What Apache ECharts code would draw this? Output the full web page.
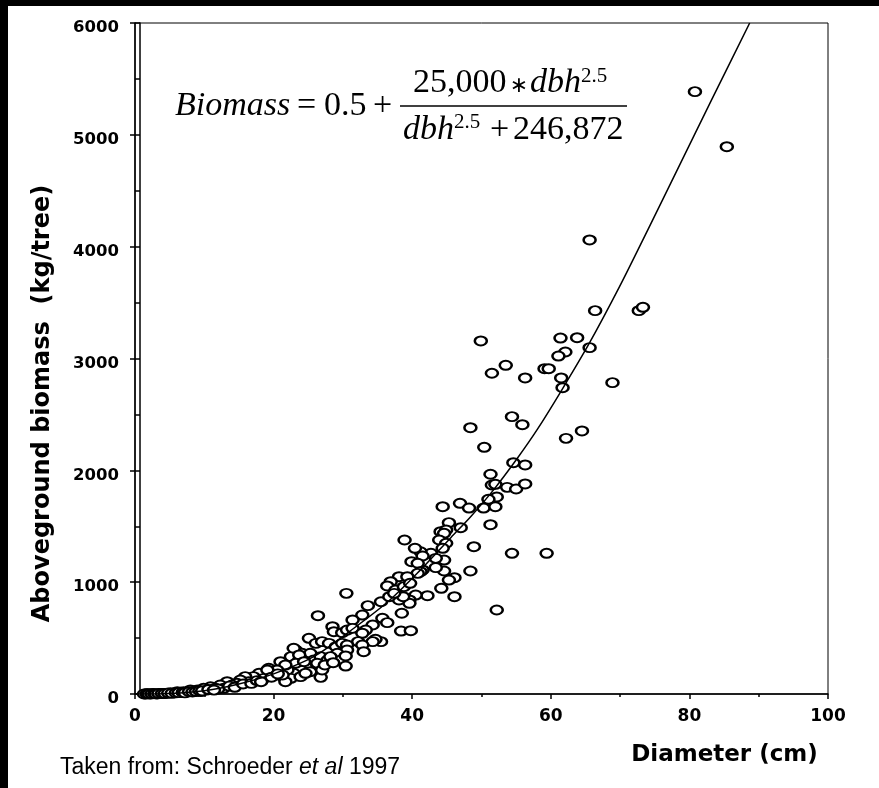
<!DOCTYPE html>
<html><head><meta charset="utf-8">
<script src="https://cdn.jsdelivr.net/npm/echarts@6/dist/echarts.min.js"></script>
<style>html,body{margin:0;padding:0;background:#fff}#c{width:879px;height:788px}</style>
</head><body><div id="c"></div>
<script>
// ---- data ----
const xTicks = [0, 20, 40, 60, 80, 100];
const yTicks = [0, 1000, 2000, 3000, 4000, 5000, 6000];

const dbh = [
 80.8,85.4,65.6,66.4,72.7,73.3,61.4,63.8,65.6,62.1,61.1,61.5,68.9,61.7,64.5,62.2,
 49.9,53.5,51.5,59.1,59.7,56.3,54.4,55.9,48.4,50.4,54.6,56.3,51.3,51.5,52.0,53.7,
 55.0,56.3,52.2,51.0,44.4,46.9,48.2,50.3,52.0,45.3,47.0,51.3,44.1,44.9,44.6,43.9,
 44.9,48.9,54.4,59.4,42.7,41.2,44.6,43.4,41.5,44.6,43.4,48.4,46.1,45.3,44.2,42.2,
 46.1,52.2,38.9,40.4,44.4,41.5,39.9,40.8,41.2,40.8,38.1,36.9,36.4,37.6,39.3,38.8,
 39.7,40.5,39.6,39.6,38.1,38.7,35.5,36.7,37.4,30.5,33.6,26.4,38.5,32.8,31.4,35.7,
 36.4,34.3,28.5,28.7,29.9,30.6,31.4,33.3,32.8,38.4,39.8,35.5,34.7,34.3,32.2,32.8,
 33.0,25.1,26.1,27.0,28.0,29.0,29.9,30.6,30.6,29.2,29.7,30.4,23.2,24.1,22.5,23.7,
 25.3,25.8,26.8,27.8,28.2,30.4,26.8,24.9,26.3,23.9,25.3,22.9,21.5,22.0,21.3,22.5,
 21.7,23.9,24.6,22.9,23.7,23.2,24.4,26.3,27.0,21.0,21.7,19.3,20.5,20.0,21.3,17.9,
 18.6,17.1,19.1,15.9,16.4,15.2,14.7,13.3,14.0,12.3,12.8,10.9,11.6,9.9,9.0,9.5,
 8.0,7.0,6.1,5.1,4.1,3.2,2.2,1.5,1.8,2.6,3.6,4.6,5.6,6.6,7.5,8.5,
 10.3,11.2,12.0,13.6,14.4,15.6,16.8,17.6,18.2,19.7,20.6,27.4,28.6,
 1.3,1.7,2.0,2.4,2.8,3.0,3.4,3.9,4.3,4.8,5.3,5.9,6.3,6.9,7.2,7.8,
 8.3,8.8,9.3,9.7,10.6,11.4
];
const biomass = [
 5386,4894,4060,3428,3428,3458,3183,3186,3097,3058,3022,2826,2784,2739,2352,2286,
 3157,2939,2868,2909,2909,2826,2480,2408,2381,2206,2068,2048,1965,1869,1875,1848,
 1833,1878,1762,1741,1675,1705,1663,1663,1675,1532,1487,1514,1451,1467,1437,1377,
 1348,1317,1258,1258,1258,1272,1198,1213,1109,1100,1130,1100,1040,1019,945,879,
 870,751,1377,1303,1303,1234,1183,1169,1094,1079,1049,1004,966,930,1049,960,
 990,885,841,811,841,870,825,870,900,900,790,700,722,706,662,677,
 638,617,602,557,548,572,587,572,543,563,566,468,489,468,468,438,
 378,498,453,468,453,423,453,438,393,364,304,340,393,364,334,304,
 364,304,334,304,334,250,149,244,259,215,199,185,244,215,155,140,
 110,155,185,409,349,275,289,275,215,289,259,230,215,170,170,185,
 140,155,215,155,110,125,96,110,80,80,51,65,51,51,36,21,
 36,21,21,12,6,0,0,0,3,4,5,8,10,15,18,25,
 35,40,45,70,60,90,95,120,110,150,180,260,280,
 0,2,1,2,3,1,4,5,4,8,6,10,12,14,10,20,
 18,22,30,28,40,35
];

// fitted curve, points
const curveDbh     = [0, 5, 10, 15, 20, 25.8, 30.6, 36.4, 41.2, 45.6, 48.5, 51.8, 55.2, 58.1, 61.6, 65.5, 69.9, 74, 78, 83.2, 88.7];
const curveBiomass = [0, 5, 30, 90, 180, 334, 543, 820, 1110, 1400, 1590, 1830, 2110, 2370, 2720, 3130, 3640, 4150, 4656, 5312, 6000];

const yName = 'Aboveground biomass  (kg/tree)';
const xName = 'Diameter (cm)';
const source = 'Taken from: Schroeder ';

// ---- chart ----
const chart = echarts.init(document.getElementById('c'), null, {renderer: 'canvas'});
const serif = 'Liberation Serif';
const sans = 'DejaVu Sans';
const eqFont = 34, supFont = 21;
const plain = v => String(v);

const option = {
  backgroundColor: '#fff',
  animation: false,
  grid: {left: 135, right: 51, top: 23, bottom: 94, show: true, borderColor: '#000', borderWidth: 1, backgroundColor: 'transparent'},
  xAxis: {
    type: 'value', min: xTicks[0], max: xTicks[xTicks.length - 1], interval: xTicks[1] - xTicks[0],
    name: xName, nameLocation: 'middle', nameGap: 50,
    nameTextStyle: {fontFamily: sans, fontWeight: 'bold', fontSize: 23, color: '#000', padding: [0, 0, 0, 486]},
    axisLine: {show: true, onZero: false, lineStyle: {color: '#000', width: 1.5}},
    axisTick: {show: true, length: 5, lineStyle: {color: '#000', width: 1.5}},
    minorTick: {show: true, splitNumber: 2, length: 3, lineStyle: {color: '#000', width: 1.5}},
    axisLabel: {color: '#000', fontFamily: sans, fontWeight: 'bold', fontSize: 17, margin: 14, formatter: plain},
    splitLine: {show: false}, minorSplitLine: {show: false}
  },
  yAxis: [{
    type: 'value', min: yTicks[0], max: yTicks[yTicks.length - 1], interval: yTicks[1] - yTicks[0],
    name: yName, nameLocation: 'middle', nameGap: 80,
    nameTextStyle: {fontFamily: sans, fontWeight: 'bold', fontSize: 24, color: '#000', padding: [0, 90, 0, 0]},
    axisLine: {show: true, onZero: false, lineStyle: {color: '#000', width: 1.5}},
    axisTick: {show: true, length: 5, lineStyle: {color: '#000', width: 1.5}},
    axisLabel: {color: '#000', fontFamily: sans, fontWeight: 'bold', fontSize: 16.5, margin: 16,
      verticalAlign: 'top', lineHeight: 10, formatter: plain},
    splitLine: {show: false}
  }, {
    type: 'value', min: yTicks[0], max: yTicks[yTicks.length - 1], interval: (yTicks[1] - yTicks[0]) / 2,
    position: 'left', offset: -5,
    axisLine: {show: true, onZero: false, lineStyle: {color: '#000', width: 1.5}},
    axisTick: {show: true, length: 5, lineStyle: {color: '#000', width: 1.5}},
    axisLabel: {show: false}, splitLine: {show: false}
  }],
  series: [{
    type: 'scatter', yAxisIndex: 0,
    data: dbh.map((d, i) => [d, biomass[i]]),
    symbol: 'circle', symbolSize: [12, 9],
    itemStyle: {color: '#fff', borderColor: '#000', borderWidth: 2.2, opacity: 1},
    z: 2
  }, {
    type: 'line', yAxisIndex: 0,
    data: curveDbh.map((d, i) => [d, curveBiomass[i]]),
    smooth: 0.3, symbol: 'none', showSymbol: false, clip: true,
    lineStyle: {color: '#000', width: 1.5},
    z: 3
  }],
  graphic: [
    {type: 'rect', shape: {x: 0, y: 0, width: 879, height: 6}, style: {fill: '#000'}, z: 100},
    {type: 'rect', shape: {x: 0, y: 0, width: 8, height: 788}, style: {fill: '#000'}, z: 100},
    // equation
    {type: 'text', x: 175, y: 106, style: {text: 'Biomass', fontFamily: serif, fontStyle: 'italic', fontSize: eqFont, fill: '#000', align: 'left', verticalAlign: 'middle'}},
    {type: 'text', x: 297, y: 106, style: {text: '=', fontFamily: serif, fontSize: eqFont, fill: '#000', align: 'left', verticalAlign: 'middle'}},
    {type: 'text', x: 324, y: 106, style: {text: '0.5', fontFamily: serif, fontSize: eqFont, fill: '#000', align: 'left', verticalAlign: 'middle'}},
    {type: 'text', x: 373, y: 106, style: {text: '+', fontFamily: serif, fontSize: eqFont, fill: '#000', align: 'left', verticalAlign: 'middle'}},
    {type: 'text', x: 413, y: 83, style: {text: '25,000', fontFamily: serif, fontSize: eqFont, fill: '#000', align: 'left', verticalAlign: 'middle'}},
    {type: 'text', x: 519, y: 86, style: {text: '\u2217', fontFamily: sans, fontSize: 22, fill: '#000', align: 'center', verticalAlign: 'middle'}},
    {type: 'text', x: 530, y: 83, style: {text: 'dbh', fontFamily: serif, fontStyle: 'italic', fontSize: eqFont, fill: '#000', align: 'left', verticalAlign: 'middle'}},
    {type: 'text', x: 581, y: 76, style: {text: '2.5', fontFamily: serif, fontSize: supFont, fill: '#000', align: 'left', verticalAlign: 'middle'}},
    {type: 'line', shape: {x1: 400, y1: 106, x2: 627, y2: 106}, style: {stroke: '#000', lineWidth: 1.5}},
    {type: 'text', x: 403, y: 130, style: {text: 'dbh', fontFamily: serif, fontStyle: 'italic', fontSize: eqFont, fill: '#000', align: 'left', verticalAlign: 'middle'}},
    {type: 'text', x: 454, y: 122, style: {text: '2.5', fontFamily: serif, fontSize: supFont, fill: '#000', align: 'left', verticalAlign: 'middle'}},
    {type: 'text', x: 490, y: 130, style: {text: '+', fontFamily: serif, fontSize: eqFont, fill: '#000', align: 'left', verticalAlign: 'middle'}},
    {type: 'text', x: 513, y: 130, style: {text: '246,872', fontFamily: serif, fontSize: eqFont, fill: '#000', align: 'left', verticalAlign: 'middle'}},
    // source note
    {type: 'text', x: 60, y: 768, style: {
      text: source + '{i|et al} 1997', fontFamily: 'Liberation Sans', fontSize: 23, fill: '#000',
      align: 'left', verticalAlign: 'middle',
      rich: {i: {fontFamily: 'Liberation Sans', fontStyle: 'italic', fontSize: 23, fill: '#000'}}
    }}
  ]
};
chart.setOption(option);
</script>
</body></html>
